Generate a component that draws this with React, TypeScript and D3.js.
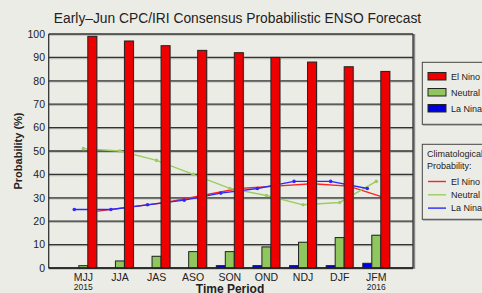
import React from 'react';
import * as d3 from 'd3';

const periods = ['MJJ', 'JJA', 'JAS', 'ASO', 'SON', 'OND', 'NDJ', 'DJF', 'JFM'];
const years = ['2015', '', '', '', '', '', '', '', '2016'];
const elNino = [99, 97, 95, 93, 92, 90, 88, 86, 84];
const neutral = [1, 3, 5, 7, 7, 9, 11, 13, 14];
const laNina = [0, 0, 0, 0, 1, 1, 1, 1, 2];
const climElNino = [24, 26, 28, 31, 34, 35, 36, 35, 30];
const climNeutral = [51, 50, 46, 40, 34, 31, 27, 28, 37];
const climLaNina = [25, 25, 27, 29, 32, 34, 37, 37, 34];
const yTicks = [0, 10, 20, 30, 40, 50, 60, 70, 80, 90, 100];
const legendNames = ['El Nino', 'Neutral', 'La Nina'];

const W = 482;
const H = 293;
const plot = { left: 48.7, right: 413, top: 34, bottom: 268 };
const bg = '#ecece6';
const font = 'Liberation Sans, Arial, sans-serif';

const RED = '#ee0000';
const GREEN = '#90c65e';
const BLUE = '#0000dd';

const App: React.FC = () => {
    const x = d3.scaleLinear().domain([0, periods.length - 1]).range([83.3, 376.3]);
    const y = d3.scaleLinear().domain([0, 100]).range([plot.bottom, plot.top]);
    const bw = 9;

    const series = [
        { vals: laNina, color: BLUE, off: -bw },
        { vals: neutral, color: GREEN, off: 0 },
        { vals: elNino, color: RED, off: bw },
    ];

    const clim = [
        { vals: climElNino, color: '#ff2222', off: bw, dots: false },
        { vals: climNeutral, color: '#9acd5f', off: 0, dots: true },
        { vals: climLaNina, color: '#2a2aff', off: -bw, dots: true },
    ];

    const lineFor = (off: number) => d3.line<number>()
        .x((_, i) => x(i) + off)
        .y(d => y(d));

    return (
        <div style={{ position: 'fixed', left: 0, top: 0 }}>
            <svg width={W} height={H} style={{ display: 'block', background: bg }}>
                <text x={237.5} y={23} textAnchor="middle" fontFamily={font} fontSize={13.8} fill="#222">
                    Early–Jun CPC/IRI Consensus Probabilistic ENSO Forecast
                </text>

                {/* grid */}
                {yTicks.map(t => (
                    <g key={t}>
                        <line x1={plot.left} x2={plot.right} y1={y(t) + 1} y2={y(t) + 1} stroke="#999" strokeWidth={1.5} opacity={0.6} />
                        <line x1={plot.left} x2={plot.right} y1={y(t)} y2={y(t)} stroke="#333" strokeWidth={1.3} />
                        <text x={45} y={y(t) + 3.8} textAnchor="end" fontFamily={font} fontSize={10.5} fill="#222">{t}</text>
                    </g>
                ))}
                <line x1={plot.right + 1.2} x2={plot.right + 1.2} y1={plot.top} y2={plot.bottom + 1} stroke="#888" strokeWidth={2} />
                <line x1={plot.right} x2={plot.right} y1={plot.top} y2={plot.bottom} stroke="#333" strokeWidth={1.3} />
                <line x1={plot.left} x2={plot.left} y1={plot.top} y2={plot.bottom} stroke="#333" strokeWidth={1.3} />

                {/* climatology lines, behind the bars */}
                {clim.map((c, k) => (
                    <g key={k}>
                        <path d={lineFor(c.off)(c.vals) ?? ''} fill="none" stroke={c.color} strokeWidth={1.4} />
                        {c.dots && c.vals.map((v, i) => (
                            <circle key={i} cx={x(i) + c.off} cy={y(v)} r={1.8} fill={c.color} />
                        ))}
                    </g>
                ))}

                {/* bars */}
                {series.map((s, k) => (
                    <g key={k}>
                        {s.vals.map((v, i) => v > 0 && (
                            <g key={i}>
                                <rect x={x(i) + s.off - bw / 2 + 1} y={y(v) - 0.5} width={bw} height={y(0) - y(v)} fill="#999" opacity={0.5} />
                                <rect x={x(i) + s.off - bw / 2} y={y(v)} width={bw} height={y(0) - y(v)} fill={s.color} stroke="#222" strokeWidth={1} />
                            </g>
                        ))}
                    </g>
                ))}
                <line x1={plot.left} x2={plot.right} y1={plot.bottom} y2={plot.bottom} stroke="#222" strokeWidth={1.3} />

                {/* x labels */}
                {periods.map((p, i) => (
                    <g key={p}>
                        <text x={x(i)} y={281} textAnchor="middle" fontFamily={font} fontSize={10.5} fill="#222">{p}</text>
                        {years[i] && (
                            <text x={x(i)} y={290} textAnchor="middle" fontFamily={font} fontSize={8.5} fill="#222">{years[i]}</text>
                        )}
                    </g>
                ))}
                <text x={230} y={293} textAnchor="middle" fontFamily={font} fontSize={12} fontWeight="bold" fill="#222">Time Period</text>
                <text transform={`translate(21.5,${(plot.top + plot.bottom) / 2}) rotate(-90)`} textAnchor="middle" fontFamily={font} fontSize={11} fontWeight="bold" fill="#222">
                    Probability (%)
                </text>

                {/* legend: forecast */}
                <rect x={423.3} y={63.3} width={70} height={62} fill="none" stroke="#aaa" strokeWidth={1} />
                <rect x={422.3} y={62.3} width={70} height={62} fill={bg} stroke="#444" strokeWidth={1} />
                {series.slice().reverse().map((s, k) => (
                    <g key={k}>
                        <rect x={428} y={72.5 + k * 16} width={18} height={7.5} fill={s.color} stroke="#222" strokeWidth={1} />
                        <text x={451} y={79.6 + k * 16} fontFamily={font} fontSize={9} fill="#222">
                            {legendNames[k]}
                        </text>
                    </g>
                ))}

                {/* legend: climatology */}
                <rect x={423.3} y={145.3} width={70} height={75} fill="none" stroke="#aaa" strokeWidth={1} />
                <rect x={422.3} y={144.3} width={70} height={75} fill={bg} stroke="#444" strokeWidth={1} />
                <text x={427} y={157.3} fontFamily={font} fontSize={9} fill="#222">Climatological</text>
                <text x={427} y={169.3} fontFamily={font} fontSize={9} fill="#222">Probability:</text>
                {clim.map((c, k) => (
                    <g key={k}>
                        <line x1={428} x2={446} y1={181.5 + k * 13.3} y2={181.5 + k * 13.3} stroke={c.color} strokeWidth={1.4} />
                        <text x={451} y={184.8 + k * 13.3} fontFamily={font} fontSize={9} fill="#222">
                            {legendNames[k]}
                        </text>
                    </g>
                ))}
            </svg>
        </div>
    );
};

export default App;
